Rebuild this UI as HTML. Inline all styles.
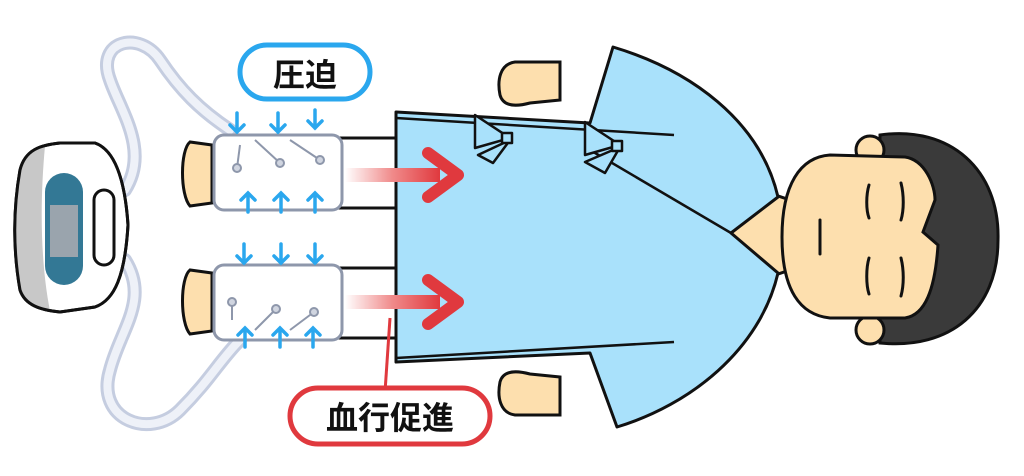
<!DOCTYPE html>
<html><head><meta charset="utf-8"><style>
html,body{margin:0;padding:0;background:#fff;width:1024px;height:476px;overflow:hidden}
svg{display:block}
text{font-family:"Liberation Sans","Noto Sans CJK JP",sans-serif;font-weight:bold}
</style></head><body>
<svg width="1024" height="476" viewBox="0 0 1024 476">
<defs>
<linearGradient id="rg" x1="0" x2="1"><stop offset="0" stop-color="#fff"/><stop offset="0.5" stop-color="#f08a8a"/><stop offset="1" stop-color="#e0393e"/></linearGradient>
</defs>
<!-- tubes -->
<g fill="none" stroke="#c5cde0" stroke-width="14" stroke-linecap="round">
<path d="M125,190 C150,150 120,110 110,80 C95,40 140,30 160,60 C180,90 200,110 230,130"/>
<path d="M125,260 C150,300 120,330 110,370 C95,420 150,440 180,410 C210,380 220,360 240,340"/>
</g>
<g fill="none" stroke="#eef1f8" stroke-width="8" stroke-linecap="round">
<path d="M125,190 C150,150 120,110 110,80 C95,40 140,30 160,60 C180,90 200,110 230,130"/>
<path d="M125,260 C150,300 120,330 110,370 C95,420 150,440 180,410 C210,380 220,360 240,340"/>
</g>
<!-- device -->
<path d="M20,170 C25,150 40,145 60,143 L95,143 C115,150 125,180 128,225 C125,275 115,300 95,307 L60,312 C40,310 25,305 20,290 C13,250 13,210 20,170 Z" fill="#fff" stroke="#111" stroke-width="3"/>
<path d="M20,170 C25,150 35,147 45,146 C40,200 40,260 50,311 C35,308 25,303 20,290 C13,250 13,210 20,170Z" fill="#c8c8c8"/>
<path d="M20,170 C25,150 40,145 60,143 L95,143 C115,150 125,180 128,225 C125,275 115,300 95,307 L60,312 C40,310 25,305 20,290 C13,250 13,210 20,170 Z" fill="none" stroke="#111" stroke-width="3"/>
<rect x="45" y="173" width="38" height="112" rx="19" fill="#337895"/>
<rect x="50" y="205" width="28" height="52" fill="#9aa4ad"/>
<rect x="94" y="190" width="20" height="75" rx="10" fill="#fff" stroke="#111" stroke-width="3"/>
<!-- hands -->
<path d="M560,62 L515,62 C500,64 497,80 500,95 C503,106 515,107 530,103 L560,100 Z" fill="#fddfae" stroke="#111" stroke-width="3"/>
<path d="M560,415 L515,415 C500,413 497,397 500,382 C503,371 515,370 530,374 L560,377 Z" fill="#fddfae" stroke="#111" stroke-width="3"/>
<!-- legs white -->
<rect x="330" y="138" width="80" height="70" fill="#fff" stroke="#111" stroke-width="3"/>
<rect x="330" y="268" width="80" height="70" fill="#fff" stroke="#111" stroke-width="3"/>
<!-- neck -->
<path d="M775,195 L731,233 L775,275 L790,270 L790,200Z" fill="#fddfae" stroke="#111" stroke-width="3"/>
<!-- gown -->
<path d="M396,112 L590,123 L613,47 C690,70 760,120 778,197 L731,233 L778,273 C760,350 690,405 617,427 L590,353 L396,362 Z" fill="#a9e1fb" stroke="#111" stroke-width="3" stroke-linejoin="round"/>
<g stroke="#111" stroke-width="2.5" fill="none">
<path d="M396,118 L674,135"/><path d="M396,358 L674,342"/>
<path d="M590,150 L731,233"/>
</g>
<!-- head -->
<path d="M880,135 C950,125 1000,170 998,240 C998,310 950,350 880,343 Z" fill="#3a3a3a" stroke="#111" stroke-width="3"/>
<circle cx="870" cy="150" r="14" fill="#fddfae" stroke="#111" stroke-width="3"/>
<circle cx="870" cy="330" r="14" fill="#fddfae" stroke="#111" stroke-width="3"/>
<path d="M830,155 L905,157 C925,160 935,185 935,200 L923,232 L938,245 C935,290 925,315 905,318 L830,318 C800,315 782,290 782,237 C782,185 800,157 830,155Z" fill="#fddfae" stroke="#111" stroke-width="3"/>
<g stroke="#111" stroke-width="3" stroke-linecap="round" fill="none">
<path d="M869,185 C866,195 866,210 869,218"/><path d="M901,183 C904,195 904,210 901,220"/>
<path d="M869,258 C866,268 866,285 869,294"/><path d="M901,258 C904,270 904,285 901,296"/>
<path d="M820,220 L820,254"/>
</g>
<!-- ties -->
<g fill="#a9e1fb" stroke="#111" stroke-width="2.5" stroke-linejoin="round">
<path d="M475,115 L510,138 L475,148 Z"/><path d="M478,155 L510,140 L493,163 Z"/>
<path d="M585,122 L620,145 L585,155 Z"/><path d="M585,162 L620,147 L605,173 Z"/>
<rect x="502" y="133" width="10" height="10"/><rect x="612" y="141" width="10" height="10"/>
</g>
<!-- feet -->
<path d="M212,145 L190,142 C180,150 180,195 190,206 L212,203 Z" fill="#fddfae" stroke="#111" stroke-width="3"/>
<path d="M212,273 L190,270 C180,278 180,323 190,334 L212,331 Z" fill="#fddfae" stroke="#111" stroke-width="3"/>
<!-- wraps -->
<rect x="214" y="135" width="128" height="75" rx="10" fill="#fff" stroke="#8e97ab" stroke-width="3"/>
<rect x="214" y="265" width="128" height="75" rx="10" fill="#fff" stroke="#8e97ab" stroke-width="3"/>
<g stroke="#8e97ab" stroke-width="2" fill="#d0d5e0">
<line x1="240" y1="145" x2="237" y2="168"/><line x1="255" y1="140" x2="280" y2="163"/><line x1="290" y1="140" x2="320" y2="160"/>
<circle cx="237" cy="168" r="4"/><circle cx="280" cy="163" r="4"/><circle cx="320" cy="160" r="4"/>
<line x1="232" y1="320" x2="232" y2="302"/><line x1="255" y1="330" x2="276" y2="309"/><line x1="290" y1="330" x2="314" y2="312"/>
<circle cx="232" cy="302" r="4"/><circle cx="276" cy="309" r="4"/><circle cx="314" cy="312" r="4"/>
</g>
<!-- blue arrows -->
<g stroke="#2aa7ee" stroke-width="3.5" fill="none" stroke-linecap="round">
<path d="M237,113 V132 M230,125 L237,132 L244,125"/><path d="M278,113 V132 M271,125 L278,132 L285,125"/><path d="M315,110 V128 M308,121 L315,128 L322,121"/>
<path d="M248,212 V193 M241,200 L248,193 L255,200"/><path d="M281,212 V193 M274,200 L281,193 L288,200"/><path d="M315,212 V193 M308,200 L315,193 L322,200"/>
<path d="M244,244 V263 M237,256 L244,263 L251,256"/><path d="M281,244 V263 M274,256 L281,263 L288,256"/><path d="M315,244 V263 M308,256 L315,263 L322,256"/>
<path d="M245,347 V328 M238,335 L245,328 L252,335"/><path d="M280,347 V328 M273,335 L280,328 L287,335"/><path d="M313,347 V328 M306,335 L313,328 L320,335"/>
</g>
<!-- red arrows -->
<rect x="345" y="168" width="95" height="14" fill="url(#rg)"/>
<path d="M428,153 L458,175 L428,197" fill="none" stroke="#e0393e" stroke-width="12" stroke-linecap="round" stroke-linejoin="round"/>
<rect x="345" y="295" width="95" height="14" fill="url(#rg)"/>
<path d="M428,280 L458,302 L428,324" fill="none" stroke="#e0393e" stroke-width="12" stroke-linecap="round" stroke-linejoin="round"/>
<line x1="390" y1="318" x2="385" y2="392" stroke="#e0393e" stroke-width="3"/>
<!-- labels -->
<rect x="240" y="45" width="130" height="54" rx="27" fill="#fff" stroke="#2aa7ee" stroke-width="5"/>
<text x="305" y="86" font-size="32" text-anchor="middle" fill="#111">圧迫</text>
<rect x="290" y="388" width="200" height="56" rx="28" fill="#fff" stroke="#e0393e" stroke-width="5"/>
<text x="390" y="429" font-size="32" text-anchor="middle" fill="#111">血行促進</text>
</svg>
</body></html>
